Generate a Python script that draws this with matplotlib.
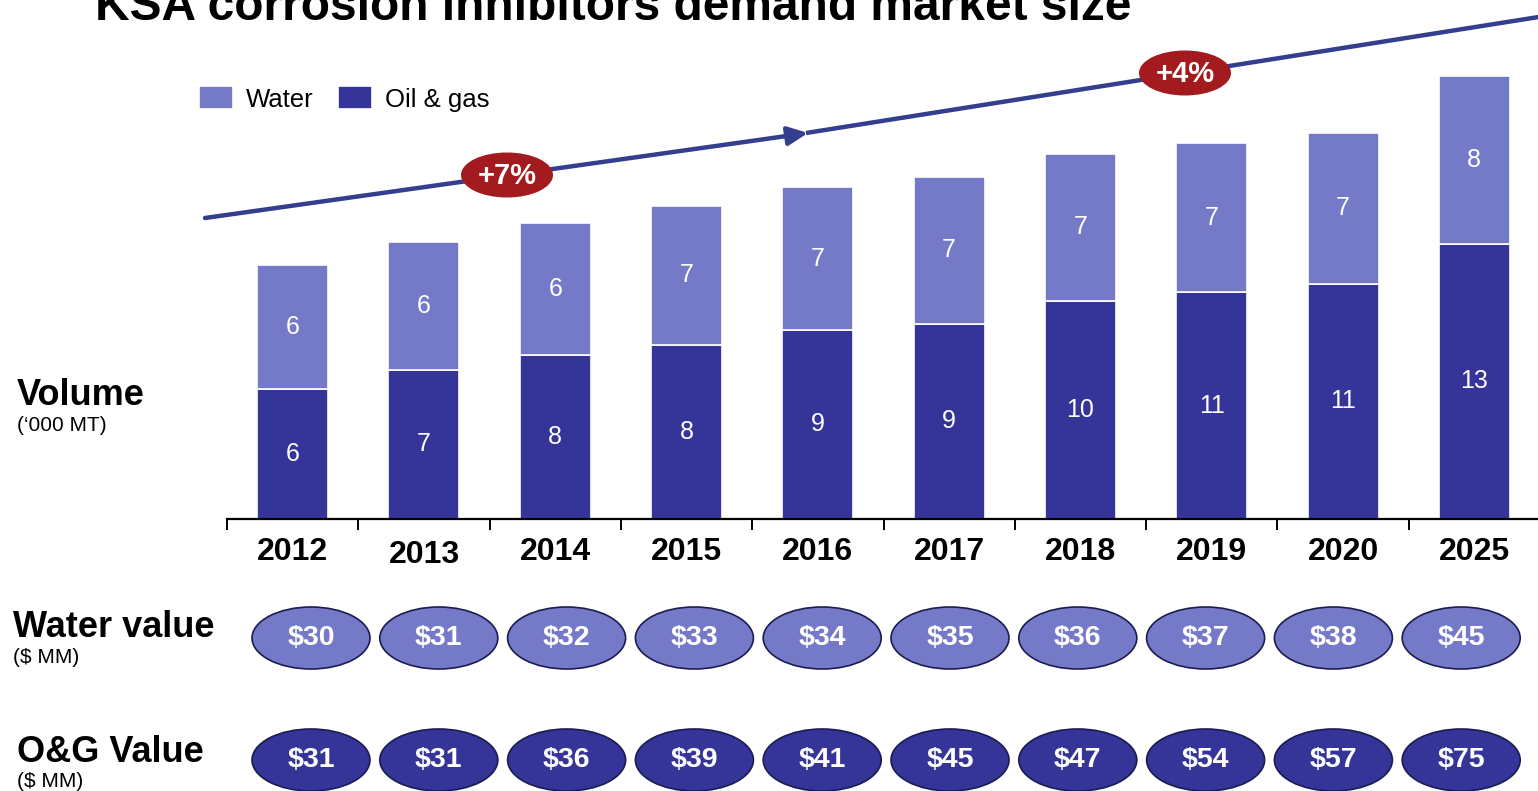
import numpy as np
import matplotlib
matplotlib.use('Agg')
import matplotlib.pyplot as plt
from matplotlib.patches import Ellipse
from matplotlib.transforms import ScaledTranslation

plt.rcParams['font.family'] = ['Liberation Sans', 'DejaVu Sans']

# data
years = ['2012', '2013', '2014', '2015', '2016', '2017', '2018', '2019', '2020', '2025']
oil_gas = [6.2, 7.1, 7.8, 8.3, 9.0, 9.3, 10.4, 10.8, 11.2, 13.1]
water = [5.9, 6.1, 6.3, 6.6, 6.8, 7.0, 7.0, 7.1, 7.2, 8.0]
water_value = [30, 31, 32, 33, 34, 35, 36, 37, 38, 45]
og_value = [31, 31, 36, 39, 41, 45, 47, 54, 57, 75]
cagr_labels = ['+7%', '+4%']

W, H = 1538, 791
c_water = '#7479c8'
c_og = '#343499'
c_line = '#343e8f'
c_red = '#a31b1e'
c_edge = '#1c1c50'

fig = plt.figure(figsize=(W / 100, H / 100), dpi=100)

def fx(px):
    return px / W

def fy(py):
    return 1 - py / H

# ---- volume bars
step = 131.3
ax = fig.add_axes([fx(227), fy(519), fx(W - 227), 519 / H])
x = np.arange(len(years))
ax.bar(x, oil_gas, width=0.54, color=c_og, edgecolor='white', linewidth=1.2, label='Oil & gas')
ax.bar(x, water, width=0.54, bottom=oil_gas, color=c_water, edgecolor='white', linewidth=1.2, label='Water')
for i in range(len(years)):
    ax.text(x[i], oil_gas[i] / 2, f'{oil_gas[i]:.0f}', ha='center', va='center', color='white', fontsize=18)
    ax.text(x[i], oil_gas[i] + water[i] / 2, f'{water[i]:.0f}', ha='center', va='center', color='white', fontsize=18)

ax.set_xlim(-0.5, -0.5 + (W - 227) / step)
ax.set_ylim(0, 519 / 21)
for s in ['left', 'right', 'top']:
    ax.spines[s].set_visible(False)
ax.spines['bottom'].set_linewidth(1.6)
ax.set_yticks([])
ax.set_xticks(x)
ax.set_xticklabels(years, fontsize=23, fontweight='bold')
ax.set_xticks(x - 0.5, minor=True)
ax.tick_params(axis='x', which='major', length=0, pad=13)
ax.tick_params(axis='x', which='minor', length=8, width=1.4, direction='out')
# 2013 label sits a little lower in the original
lbl = ax.get_xticklabels()[1]
lbl.set_transform(lbl.get_transform() + ScaledTranslation(0, -3 / 100, fig.dpi_scale_trans))

h, l = ax.get_legend_handles_labels()
fig.legend(h[::-1], l[::-1], loc='center left', bbox_to_anchor=(fx(199), fy(99)), ncol=2,
           frameon=False, fontsize=18.5, handlelength=1.32, handleheight=1.0,
           handletextpad=0.5, columnspacing=0.95, borderpad=0, borderaxespad=0)

# ---- value rows (ovals)
ostep = 127.8
rows = [(water_value, c_water, 638), (og_value, c_og, 760)]
for vals, col, cy in rows:
    rax = fig.add_axes([fx(311 - ostep / 2), fy(cy + 40), fx(ostep * 10), 80 / H])
    rax.set_xlim(-0.5, 9.5)
    rax.set_ylim(-40 / ostep, 40 / ostep)
    rax.axis('off')
    for i, v in enumerate(vals):
        rax.add_patch(Ellipse((i, 0), 118 / ostep, 62 / ostep, facecolor=col,
                              edgecolor=c_edge, linewidth=1.2, clip_on=False))
        rax.text(i, 0, f'${v}', ha='center', va='center', color='white',
                 fontsize=20.5, fontweight='bold')

# ---- trend arrow and growth ovals
ov = fig.add_axes([0, 0, 1, 1], facecolor='none')
ov.set_xlim(0, W)
ov.set_ylim(H, 0)
ov.axis('off')
ov.annotate('', xy=(808, 133), xytext=(205, 218),
            arrowprops=dict(arrowstyle='-|>,head_length=0.75,head_width=0.35', lw=3.2,
                            color=c_line, shrinkA=0, shrinkB=0, mutation_scale=16))
ov.plot([806, 1545], [133, 16], color=c_line, lw=3.2, solid_capstyle='butt')
for (cx, cy), txt in zip([(507, 175), (1185, 73)], cagr_labels):
    ov.add_patch(Ellipse((cx, cy), 92, 45, facecolor=c_red, edgecolor='none', zorder=5))
    ov.text(cx, cy + 1, txt, ha='center', va='center', color='white', fontsize=21,
            fontweight='bold', zorder=6)

# ---- texts
fig.text(fx(95), fy(20), 'KSA corrosion inhibitors demand market size', fontsize=34.5,
         fontweight='bold', va='baseline')
fig.text(fx(17), fy(405), 'Volume', fontsize=26, fontweight='bold', va='baseline')
fig.text(fx(17), fy(431), '(\u2018000 MT)', fontsize=15, va='baseline')
fig.text(fx(13), fy(637), 'Water value', fontsize=26, fontweight='bold', va='baseline')
fig.text(fx(13), fy(663), '($ MM)', fontsize=15, va='baseline')
fig.text(fx(17), fy(762), 'O&G Value', fontsize=26, fontweight='bold', va='baseline')
fig.text(fx(17), fy(787), '($ MM)', fontsize=15, va='baseline')

fig.savefig('out.png', dpi=100)
